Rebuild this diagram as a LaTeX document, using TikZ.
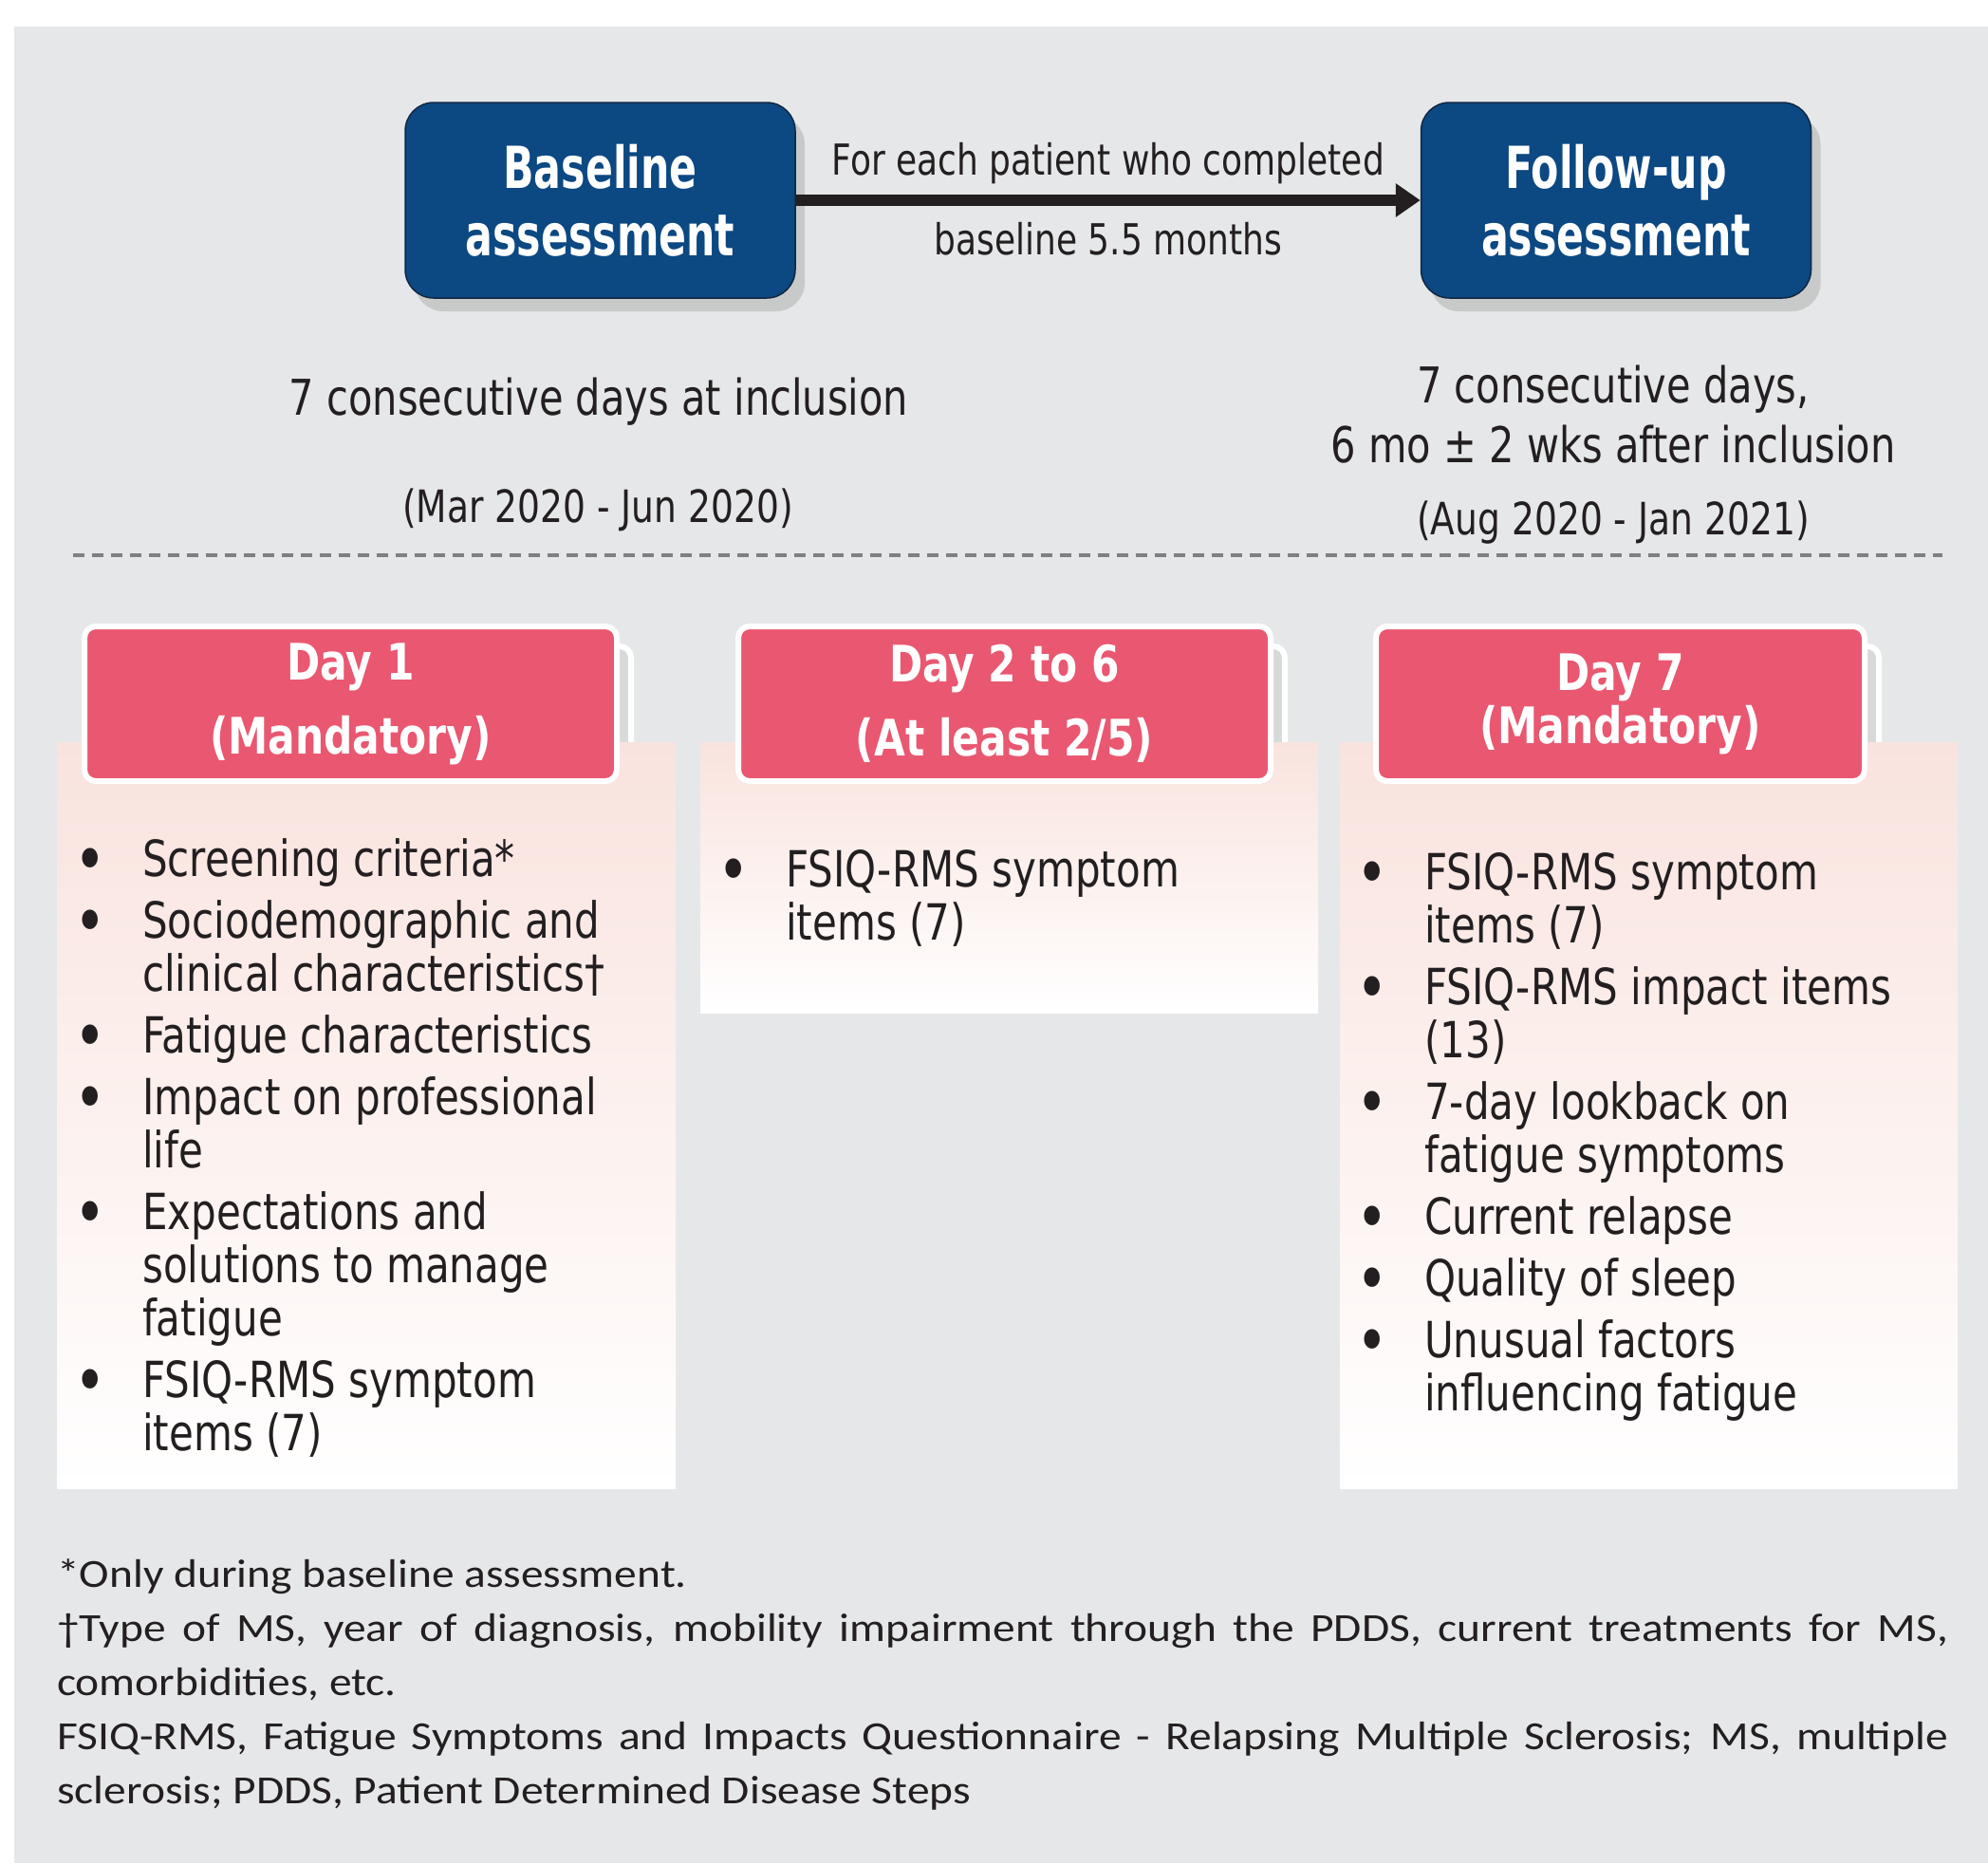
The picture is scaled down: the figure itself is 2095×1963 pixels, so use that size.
\documentclass[tikz,border=0pt]{standalone}
\usepackage{fontspec}
\setmainfont{DejaVu Sans}[FakeStretch=0.8]
\newfontfamily\titlefont{DejaVu Sans}[FakeStretch=0.7]
\newfontfamily\notefont{Carlito}[FakeStretch=1.13]
\usetikzlibrary{arrows.meta,shadows,positioning}
\definecolor{bggray}{RGB}{230,231,233}
\definecolor{navy}{RGB}{12,72,130}
\definecolor{navyline}{RGB}{16,40,68}
\definecolor{boxshadow}{RGB}{200,201,201}
\definecolor{daypink}{RGB}{233,87,113}
\definecolor{dayback}{RGB}{216,218,218}
\definecolor{panelpink}{RGB}{249,227,222}
\definecolor{ink}{RGB}{35,31,32}
\definecolor{dashgray}{RGB}{128,128,128}
\setlength{\parindent}{0pt}
\hyphenpenalty=10000
\exhyphenpenalty=10000
\newcommand{\bul}[1]{\makebox[72pt][l]{\raisebox{-7pt}{\scalebox{1.35}{\textbullet}}}#1}
\newcommand{\cont}[1]{\hspace*{72pt}#1}
\begin{document}
\begin{tikzpicture}[x=1pt, y=-1pt, node distance=1070.5pt,
  assess/.style={draw=navyline, line width=1.5pt, fill=navy, rounded corners=30pt, minimum width=411pt, minimum height=206pt, text=white, align=center, font=\titlefont\bfseries\fontsize{61}{71}\selectfont, drop shadow={shadow xshift=10pt, shadow yshift=-14pt, fill=boxshadow, opacity=1}},
  flow/.style={-{Triangle[length=26pt, width=34pt]}, line width=12pt, draw=ink},
  flowlabel/.style={inner sep=0pt, text=ink, font=\fontsize{45}{54}\selectfont},
  period/.style={inner sep=0pt, text=ink, align=center, font=\fontsize{52}{63}\selectfont},
  dates/.style={inner sep=0pt, text=ink, font=\fontsize{47}{56}\selectfont},
  dayhead/.style={draw=white, line width=6pt, fill=daypink, rounded corners=12pt, minimum height=163pt, text=white, align=center, font=\bfseries\fontsize{53}{78}\selectfont},
  dayback/.style={draw=white, line width=6pt, fill=dayback, rounded corners=12pt},
  panel/.style={top color=panelpink, bottom color=white},
  items/.style={anchor=north west, inner sep=0pt, align=left, text=ink, font=\fontsize{52.5}{56}\selectfont},
  notes/.style={anchor=north west, inner sep=0pt, text width=1993pt, align=justify, text=ink, font=\notefont\fontsize{42}{57}\selectfont}]
\useasboundingbox (0,0) rectangle (2095,1963);
\fill[bggray] (15,28) rectangle (2095,1963);
\draw[dashgray, line width=4pt, dash pattern=on 12pt off 8pt] (77,585) -- (2047,585);
\draw[dayback] (104,681) rectangle (665,844);
\draw[dayback] (793,681) rectangle (1354,844);
\draw[dayback] (1465,681) rectangle (1980,844);
\shade[panel] (60,782) rectangle (712,1568);
\shade[panel] (738,782) rectangle (1389,1067);
\shade[panel] (1412,782) rectangle (2063,1568);
\node[assess] (base) at (632.5,211) {Baseline\\assessment};
\node[assess] (fup) [right of=base] {Follow-up\\assessment};
\draw[flow] (base) -- (fup)
  node[flowlabel, midway, above=11.4pt] {For each patient who completed}
  node[flowlabel, midway, below=17pt] {baseline 5.5 months};
\node[period, anchor=base] (incl) at (631,437) {7 consecutive days at inclusion};
\node[dates, anchor=base] (incldates) at (630,550) {(Mar 2020 - Jun 2020)};
\node[period, anchor=north] (after) at (1700,385) {7 consecutive days,\\6 mo ± 2 wks after inclusion};
\node[dates, anchor=base] (afterdates) at (1700,563) {(Aug 2020 - Jan 2021)};
\node[dayhead, minimum width=561pt] (day1) at (369.5,741.5) {Day 1\\(Mandatory)};
\node[dayhead, minimum width=561pt] (day26) at (1058.5,741.5) {Day 2 to 6\\(At least 2/5)};
\node[dayhead, minimum width=515pt, font=\bfseries\fontsize{53}{56}\selectfont] (day7) at (1707.5,741.5) {Day 7\\(Mandatory)};
\node[items] (list1) at (78,883.5) {\bul{Screening criteria*}\\[9pt]
  \bul{Sociodemographic and}\\
  \cont{clinical characteristics†}\\[9pt]
  \bul{Fatigue characteristics}\\[9pt]
  \bul{Impact on professional}\\
  \cont{life}\\[9pt]
  \bul{Expectations and}\\
  \cont{solutions to manage}\\
  \cont{fatigue}\\[9pt]
  \bul{FSIQ-RMS symptom}\\
  \cont{items (7)}};
\node[items] (list26) at (756,895.5) {\bul{FSIQ-RMS symptom}\\
  \cont{items (7)}};
\node[items] (list7) at (1429,898.5) {\bul{FSIQ-RMS symptom}\\
  \cont{items (7)}\\[9pt]
  \bul{FSIQ-RMS impact items}\\
  \cont{(13)}\\[9pt]
  \bul{7-day lookback on}\\
  \cont{fatigue symptoms}\\[9pt]
  \bul{Current relapse}\\[9pt]
  \bul{Quality of sleep}\\[9pt]
  \bul{Unusual factors}\\
  \cont{influencing fatigue}};
\node[notes] (footnotes) at (60,1642) {*Only during baseline assessment.\par
  †Type of MS, year of diagnosis, mobility impairment through the PDDS, current treatments for MS,\linebreak comorbidities, etc.\par
  FSIQ-RMS, Fatigue Symptoms and Impacts Questionnaire - Relapsing Multiple Sclerosis; MS, multiple\linebreak sclerosis; PDDS, Patient Determined Disease Steps};
\end{tikzpicture}
\end{document}
